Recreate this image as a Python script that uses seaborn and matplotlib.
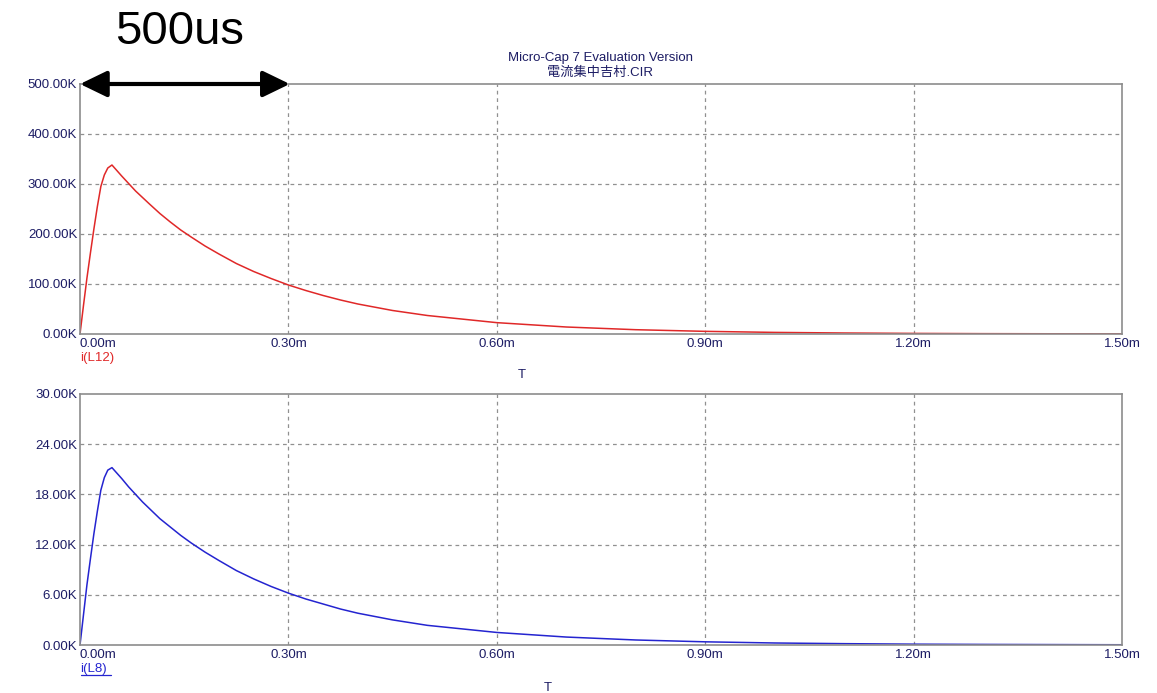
import numpy as np
import pandas as pd
import matplotlib
matplotlib.use("Agg")
import matplotlib.pyplot as plt
from matplotlib.lines import Line2D
import seaborn as sns

sns.set_style("white")
plt.rcParams['font.family'] = ['Liberation Sans', 'Noto Sans CJK JP', 'DejaVu Sans']

# time in ms, currents in K
t_ms = [0, 0.005, 0.01, 0.015, 0.02, 0.025, 0.03, 0.035, 0.04, 0.046, 0.06, 0.07, 0.08,
        0.09, 0.10, 0.115, 0.13, 0.145, 0.16, 0.18, 0.20, 0.225, 0.25, 0.275, 0.30,
        0.325, 0.35, 0.375, 0.40, 0.45, 0.50, 0.60, 0.70, 0.80, 0.90, 1.00, 1.10,
        1.20, 1.30, 1.40, 1.50]
i_l12 = [0, 57, 112, 162, 210, 255, 295, 318, 332, 338, 316, 301, 286,
         273, 260, 241, 224, 208, 194, 176, 160, 141, 125, 111, 98,
         87, 77, 68, 60, 47, 37, 22.7, 14, 8.6, 5.3, 3.2, 2.0,
         1.2, 0.7, 0.45, 0.3]
i_l8 = [0, 3.6, 7.2, 10.3, 13.3, 16.0, 18.5, 20.0, 20.9, 21.2, 19.9, 18.9, 18.0,
        17.1, 16.3, 15.1, 14.1, 13.1, 12.2, 11.1, 10.1, 8.9, 7.9, 7.0, 6.2,
        5.5, 4.9, 4.3, 3.8, 3.0, 2.35, 1.5, 0.95, 0.6, 0.38, 0.24, 0.16,
        0.1, 0.07, 0.05, 0.03]

x_ticks = [0, 0.3, 0.6, 0.9, 1.2, 1.5]
x_labels = ["0.00m", "0.30m", "0.60m", "0.90m", "1.20m", "1.50m"]
top_yticks = [0, 100, 200, 300, 400, 500]
top_ylabels = ["0.00K", "100.00K", "200.00K", "300.00K", "400.00K", "500.00K"]
bot_yticks = [0, 6, 12, 18, 24, 30]
bot_ylabels = ["0.00K", "6.00K", "12.00K", "18.00K", "24.00K", "30.00K"]

df = pd.DataFrame({'T': t_ms, 'L12': i_l12, 'L8': i_l8})

W, H = 1157, 693
fig = plt.figure(figsize=(W / 100, H / 100), dpi=100)
ax1 = fig.add_axes([80 / W, 1 - 334 / H, 1042 / W, 250 / H])
ax2 = fig.add_axes([80 / W, 1 - 645 / H, 1042 / W, 251 / H])

txt_col = "#1c1c64"
red = "#e02828"
blue = "#2424d0"

def style_axis(ax, yticks, ylabels, ymax):
    ax.set_xlim(0, 1.5)
    ax.set_ylim(0, ymax)
    ax.set_xticks(x_ticks)
    ax.set_xticklabels(x_labels)
    ax.set_yticks(yticks)
    ax.set_yticklabels(ylabels)
    ax.tick_params(length=0, labelsize=9.5, labelcolor=txt_col, pad=2)
    ax.tick_params(axis='x', pad=3)
    ax.xaxis.get_ticklabels()[0].set_horizontalalignment('left')
    for s in ax.spines.values():
        s.set_color("#8c8c8c")
        s.set_linewidth(1.2)
    for x in x_ticks[1:-1]:
        ax.axvline(x, color="#909090", ls=(0, (3, 3)), lw=0.9, zorder=0)
    for y in yticks[1:-1]:
        ax.axhline(y, color="#909090", ls=(0, (3, 3)), lw=0.9, zorder=0)
    ax.set_xlabel("")
    ax.set_ylabel("")

sns.lineplot(data=df, x='T', y='L12', ax=ax1, color=red, lw=1.1)
sns.lineplot(data=df, x='T', y='L8', ax=ax2, color=blue, lw=1.1)
style_axis(ax1, top_yticks, top_ylabels, 500)
style_axis(ax2, bot_yticks, bot_ylabels, 30)

# series names and axis name
fig.text(80 / W, 1 - 358 / H, "i(L12)", color=red, fontsize=9.5, ha='left', va='center')
fig.text(522 / W, 1 - 375 / H, "T", color=txt_col, fontsize=9.5, ha='center', va='center')
fig.text(80 / W, 1 - 669 / H, "i(L8)", color=blue, fontsize=9.5, ha='left', va='center')
fig.add_artist(Line2D([81 / W, 111 / W], [1 - 675 / H, 1 - 675 / H], color=blue, lw=0.9))
fig.text(548 / W, 1 - 688 / H, "T", color=txt_col, fontsize=9.5, ha='center', va='center')

# header
fig.text(600 / W, 1 - 58 / H, "Micro-Cap 7 Evaluation Version", color=txt_col,
         fontsize=9.5, ha='center', va='center')
fig.text(600 / W, 1 - 73 / H, "電流集中吉村.CIR", color=txt_col,
         fontsize=9.5, ha='center', va='center')

# 500us marker
ax1.annotate("", xy=(0, 500), xytext=(0.302, 500), annotation_clip=False,
             arrowprops=dict(arrowstyle='<|-|>,head_length=1.65,head_width=0.8',
                             color='black', lw=3, shrinkA=0, shrinkB=0))
fig.text(180 / W, 1 - 32 / H, "500us", color='black', fontsize=34,
         ha='center', va='center')

fig.savefig("out.png", dpi=100)
